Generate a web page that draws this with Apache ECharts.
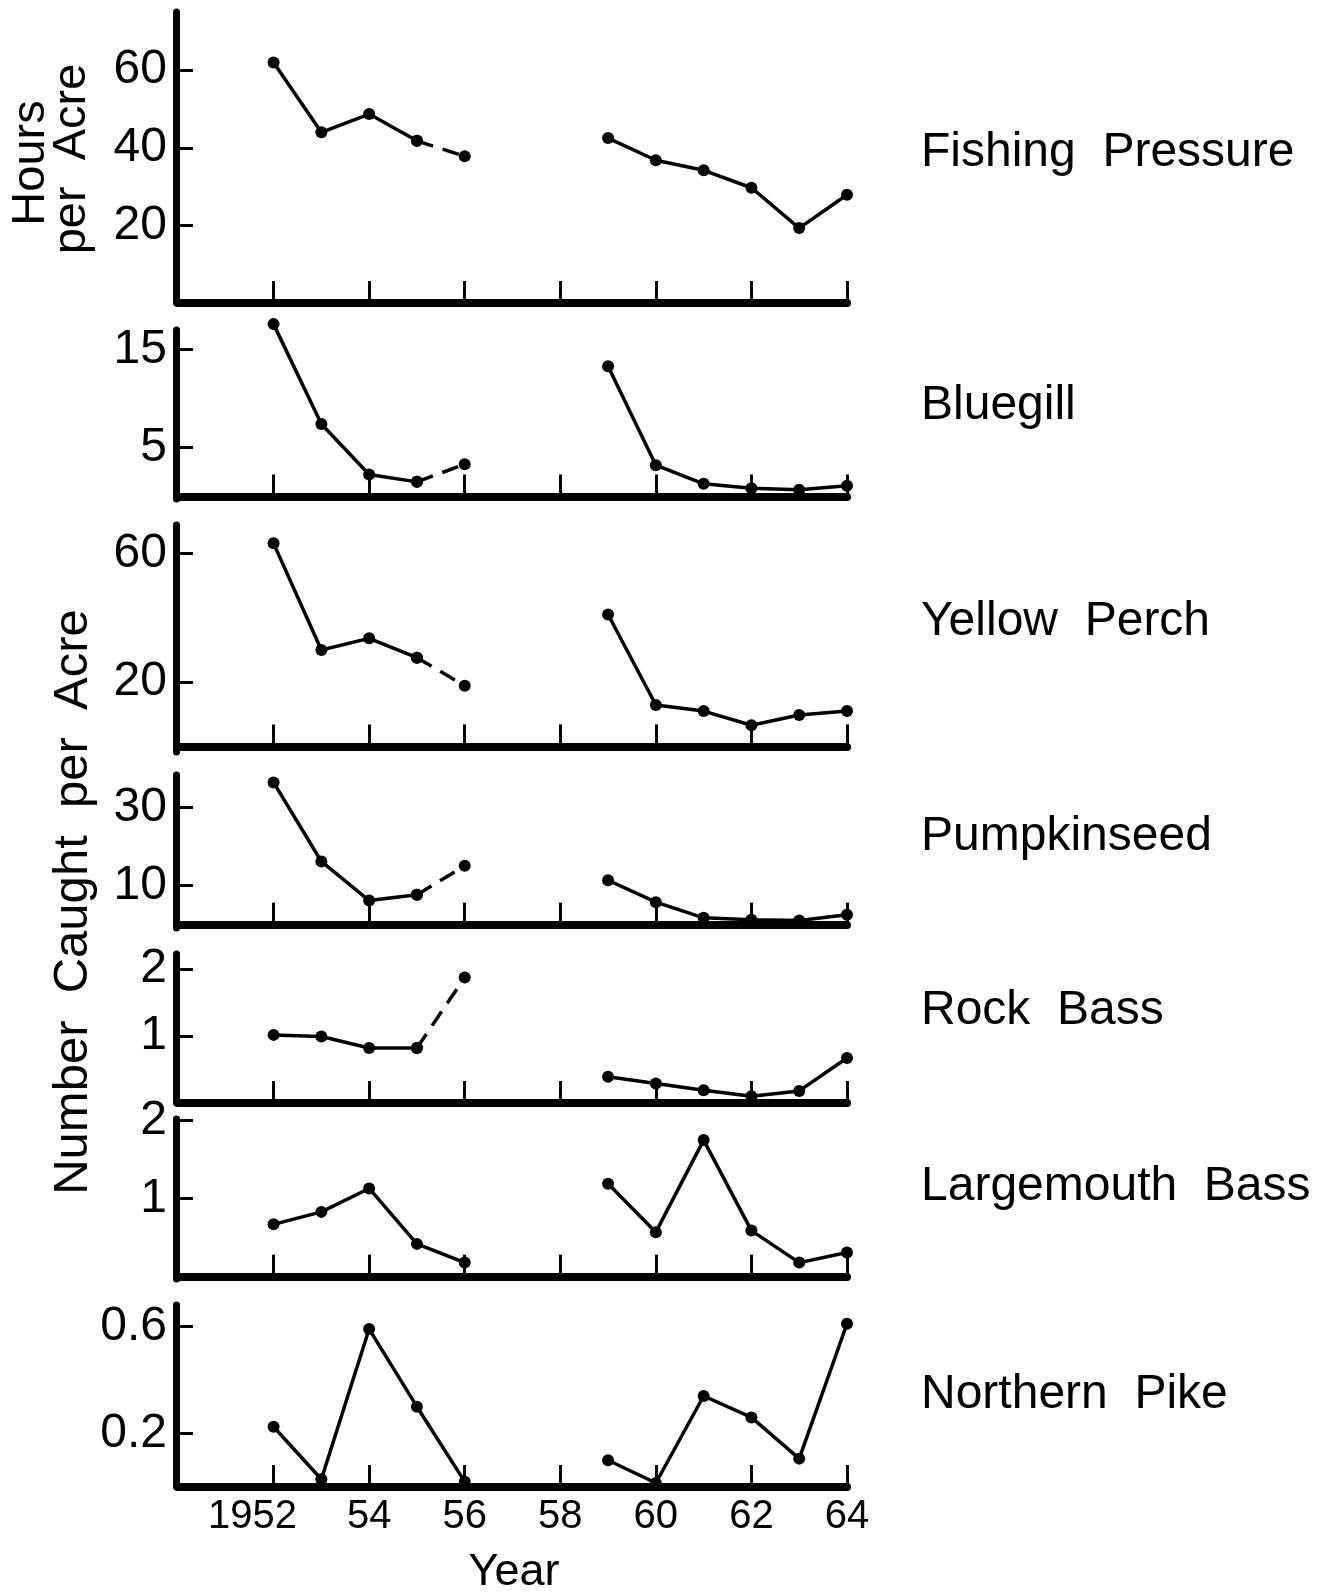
<!DOCTYPE html>
<html>
<head>
<meta charset="utf-8">
<script src="https://cdn.jsdelivr.net/npm/echarts@6/dist/echarts.min.js"></script>
<style>
html,body{margin:0;padding:0;background:#fff;}
#chart{width:1326px;height:1593px;}
</style>
</head>
<body>
<div id="chart"></div>
<script>
// ---------- data ----------
const years1 = [1952, 1953, 1954, 1955, 1956];
const years2 = [1959, 1960, 1961, 1962, 1963, 1964];

const xTickValues = [1952, 1954, 1956, 1958, 1960, 1962, 1964];
const xTickLabels = ['1952', '54', '56', '58', '60', '62', '64'];

const speciesNames = ['Fishing  Pressure', 'Bluegill', 'Yellow  Perch', 'Pumpkinseed', 'Rock  Bass', 'Largemouth  Bass', 'Northern  Pike'];

const fishing1 = [62, 44, 48.7, 41.8, 37.8];
const fishing2 = [42.5, 36.8, 34.2, 29.7, 19.3, 27.9];
const bluegill1 = [17.6, 7.4, 2.25, 1.5, 3.3];
const bluegill2 = [13.3, 3.2, 1.3, 0.85, 0.7, 1.1];
const perch1 = [63.1, 30.0, 33.6, 27.6, 18.9];
const perch2 = [41, 12.9, 11.0, 6.6, 9.8, 11.0];
const pumpkin1 = [36.4, 16.2, 6.2, 7.7, 15.1];
const pumpkin2 = [11.4, 5.8, 1.8, 1.3, 1.1, 2.6];
const rockBass1 = [1.015, 0.99, 0.82, 0.82, 1.87];
const rockBass2 = [0.39, 0.29, 0.19, 0.1, 0.18, 0.67];
const largemouth1 = [0.67, 0.83, 1.13, 0.42, 0.18];
const largemouth2 = [1.19, 0.57, 1.75, 0.59, 0.18, 0.31];
const pike1 = [0.225, 0.029, 0.59, 0.30, 0.02];
const pike2 = [0.10, 0.015, 0.34, 0.26, 0.106, 0.61];

const fishingTicks = [20, 40, 60];
const bluegillTicks = [5, 15];
const perchTicks = [20, 60];
const pumpkinTicks = [10, 30];
const rockBassTicks = [1, 2];
const largemouthTicks = [1, 2];
const pikeTicks = [0.2, 0.6];

// ---------- layout ----------
const FONT = "'Liberation Sans', Arial, Helvetica, sans-serif";
const panels = [
  { early: fishing1, late: fishing2, ticks: fishingTicks, top: 12, bottom: 303, min: 0, max: 75, dashed: true, labelY: 150 },
  { early: bluegill1, late: bluegill2, ticks: bluegillTicks, top: 330, bottom: 499, min: -0.25, max: 17, dashed: true, labelY: 403 },
  { early: perch1, late: perch2, ticks: perchTicks, top: 525, bottom: 752, min: -1.7, max: 68.8, dashed: true, labelY: 619 },
  { early: pumpkin1, late: pumpkin2, ticks: pumpkinTicks, top: 775, bottom: 928, min: -0.8, max: 38.3, dashed: true, labelY: 834 },
  { early: rockBass1, late: rockBass2, ticks: rockBassTicks, top: 954, bottom: 1103, min: 0, max: 2.22, dashed: true, labelY: 1008 },
  { early: largemouth1, late: largemouth2, ticks: largemouthTicks, top: 1119, bottom: 1279, min: -0.03, max: 2.02, dashed: false, labelY: 1184 },
  { early: pike1, late: pike2, ticks: pikeTicks, top: 1305, bottom: 1487, min: 0, max: 0.68, dashed: false, labelY: 1392 }
];

const GRID_LEFT = 178, GRID_WIDTH = 669;
const grids = [], xAxes = [], yAxes = [], series = [], graphics = [];

const lineBase = { type: 'line', symbol: 'circle', symbolSize: 12, clip: false, silent: true,
  itemStyle: { color: '#000' }, lineStyle: { color: '#000', width: 3.5 } };

panels.forEach((p, i) => {
  const last = i === panels.length - 1;
  grids.push({ left: GRID_LEFT, width: GRID_WIDTH, top: p.top, height: p.bottom - p.top, containLabel: false });
  xAxes.push({
    type: 'value', gridIndex: i, min: 1950, max: 1964, interval: 2,
    splitLine: { show: false },
    axisLine: { show: true, lineStyle: { color: '#000', width: 8 } },
    axisTick: { show: true, inside: true, length: 22, customValues: xTickValues, lineStyle: { color: '#000', width: 3 } },
    axisLabel: {
      show: last, customValues: xTickValues, margin: 10, color: '#000', fontSize: 40, fontFamily: FONT,
      formatter: v => { const idx = xTickValues.indexOf(v); if (idx < 0) return ''; return idx === 0 ? '{a|' + xTickLabels[idx] + '}' : xTickLabels[idx]; },
      rich: { a: { fontSize: 40, fontFamily: FONT, color: '#000', padding: [0, 42, 0, 0] } }
    }
  });
  yAxes.push({
    type: 'value', gridIndex: i, min: p.min, max: p.max, offset: 2,
    splitLine: { show: false },
    axisLine: { show: true, lineStyle: { color: '#000', width: 7 } },
    axisTick: { show: true, inside: true, length: 17, customValues: p.ticks, lineStyle: { color: '#000', width: 3 } },
    axisLabel: { show: true, customValues: p.ticks, margin: 9, color: '#000', fontSize: 48, fontFamily: FONT }
  });
  const early = years1.map((y, k) => [y, p.early[k]]);
  const late = years2.map((y, k) => [y, p.late[k]]);
  if (p.dashed) {
    series.push(Object.assign({}, lineBase, { xAxisIndex: i, yAxisIndex: i, data: early.slice(0, 4) }));
    series.push(Object.assign({}, lineBase, { xAxisIndex: i, yAxisIndex: i, data: early.slice(3, 5),
      lineStyle: { color: '#000', width: 3.5, type: [17, 10] } }));
  } else {
    series.push(Object.assign({}, lineBase, { xAxisIndex: i, yAxisIndex: i, data: early }));
  }
  series.push(Object.assign({}, lineBase, { xAxisIndex: i, yAxisIndex: i, data: late }));
  graphics.push({ type: 'text', left: 921, top: p.labelY - 21,
    style: { text: speciesNames[i], fill: '#000', font: '48px ' + FONT } });
});

// axis titles
graphics.push({ type: 'text', x: 31, y: 163, rotation: Math.PI / 2,
  style: { text: 'Hours', fill: '#000', font: '47px ' + FONT, align: 'center', verticalAlign: 'middle' } });
graphics.push({ type: 'text', x: 72, y: 159, rotation: Math.PI / 2,
  style: { text: 'per  Acre', fill: '#000', font: '47px ' + FONT, align: 'center', verticalAlign: 'middle' } });
graphics.push({ type: 'text', x: 73, y: 902, rotation: Math.PI / 2,
  style: { text: 'Number  Caught  per  Acre', fill: '#000', font: '49px ' + FONT, align: 'center', verticalAlign: 'middle' } });
graphics.push({ type: 'text', x: 514, y: 1573,
  style: { text: 'Year', fill: '#000', font: '45px ' + FONT, align: 'center', verticalAlign: 'middle' } });

const chart = echarts.init(document.getElementById('chart'), null, { renderer: 'canvas' });
chart.setOption({
  animation: false,
  backgroundColor: '#fff',
  grid: grids, xAxis: xAxes, yAxis: yAxes, series: series, graphic: graphics
});
</script>
</body>
</html>
